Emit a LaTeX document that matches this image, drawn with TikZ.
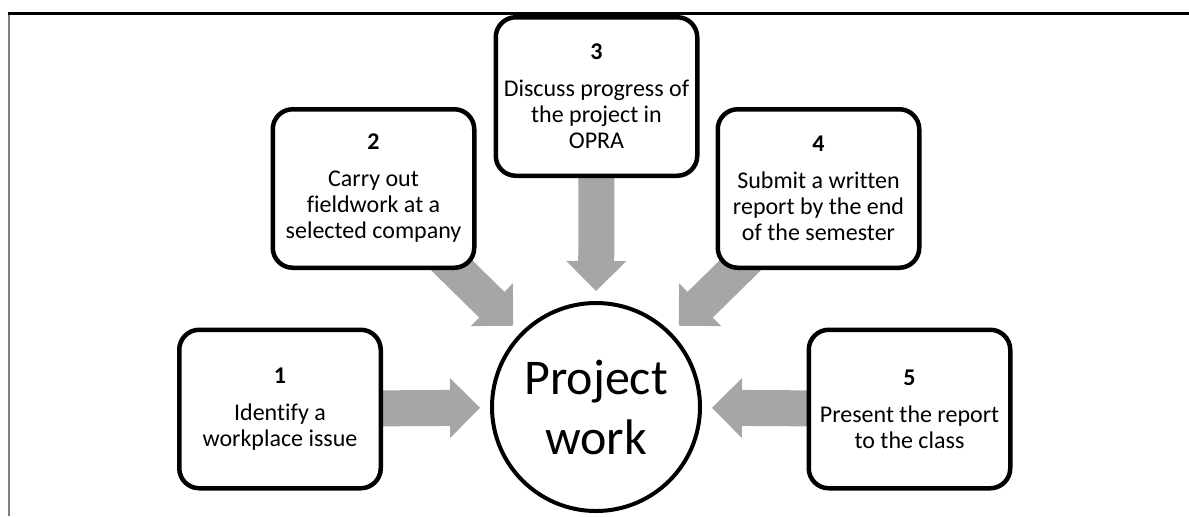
\documentclass[tikz,border=0pt]{standalone}
\usepackage{fontspec}
\setmainfont{Carlito}[Ligatures=CommonOff]
\usetikzlibrary{
    arrows.meta,
    backgrounds
}
\definecolor{flowgray}{HTML}{A6A6A6}
\tikzset{
    blocktip /.tip = {Triangle[
      length=15pt,
      width=30pt,
      line width=0pt
    ]}
  }
\tikzset{
    taskbox/.style = {rectangle, rounded corners=10pt, draw=black,
      line width=2.25pt, fill=white,
      minimum width=100.75pt, minimum height=79.25pt,
      inner sep=0pt, align=center,
      font=\fontsize{12}{13}\selectfont}
  }
\tikzset{
    feed/.style = {draw=flowgray, line width=18pt, -{blocktip},
      shorten >=5pt}
  }

\begin{document}
\begin{tikzpicture}[x=0.5pt,y=-0.5pt]
\useasboundingbox (0,0) rectangle (1189,516);

% frame of the page
\draw[line width=0.7pt, gray] (9,13) -- (9,516);
\draw[line width=1.5pt] (8,13) -- (1189,13);

\node[circle, draw, line width=2pt, minimum size=104pt, inner sep=0pt,
      align=center, font=\fontsize{25}{30}\selectfont]
  at (596,407) (project) {Project\\work};

\node[taskbox] at (280,409) (task_one)
  {\textbf{1}\\[5.5pt] Identify a\\ workplace issue};

\node[taskbox] at (373.5,188.5) (task_two)
  {\textbf{2}\\[5.5pt] Carry out\\ fieldwork at a\\ selected company};

\node[taskbox] at (596.5,96.5) (task_three)
  {\textbf{3}\\[5.5pt] Discuss progress of\\ the project in\\ OPRA};

\node[taskbox] at (818.5,188.5) (task_four)
  {\textbf{4}\\[5.5pt] Submit a written\\ report by the end\\ of the semester};

\node[taskbox] at (909.5,409) (task_five)
  {\textbf{5}\\[5.5pt] Present the report\\ to the class};

% grey arrows behind the boxes
\begin{scope}[on background layer]
\draw[feed] (task_one.center) -- (project);
\draw[feed] (task_two.center) -- (project);
\draw[feed] (task_three.center) -- (project);
\draw[feed] (task_four.center) -- (project);
\draw[feed] (task_five.center) -- (project);
\end{scope}

\end{tikzpicture}
\end{document}
